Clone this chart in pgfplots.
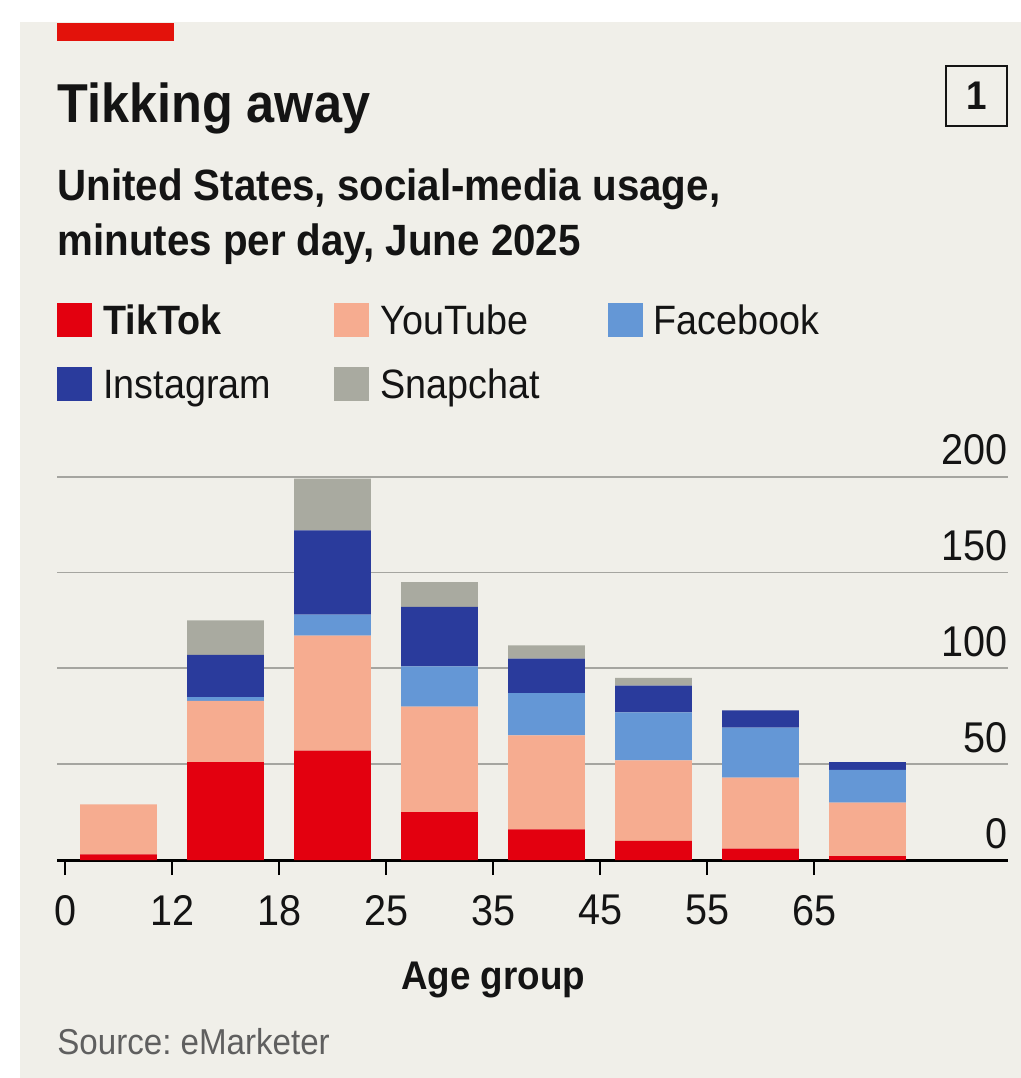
\documentclass[border=0pt]{standalone}
\usepackage{fontspec}
\setmainfont{Liberation Sans}[FakeStretch=0.92]
\usepackage{pgfplots}
\pgfplotsset{compat=1.18}
\definecolor{bg}{RGB}{240,239,233}
\definecolor{ecored}{RGB}{227,18,11}
\definecolor{tiktok}{RGB}{227,0,15}
\definecolor{youtube}{RGB}{246,172,144}
\definecolor{facebook}{RGB}{100,151,214}
\definecolor{instagram}{RGB}{42,59,156}
\definecolor{snapchat}{RGB}{169,170,160}
\definecolor{gridgray}{RGB}{165,165,160}
\definecolor{txt}{RGB}{20,20,20}
\definecolor{srcgray}{RGB}{95,95,95}

\pgfplotstableread{
x tiktok youtube facebook instagram snapchat
0 3 26 0 0 0
1 51 32 2 22 18
2 57 60 11 44 27
3 25 55 21 31 13
4 16 49 22 18 7
5 10 42 25 14 4
6 6 37 26 9 0
7 2 28 17 4 0
}\datatable

\newcommand{\fs}[1]{\fontsize{#1}{#1}\selectfont}
\frenchspacing

\begin{document}
\begin{tikzpicture}
\path[use as bounding box] (0,0) rectangle (510.5pt,-539pt);
\fill[white] (0,0) rectangle (510.5pt,-539pt);
\begin{scope}[x=0.5pt,y=-0.5pt]
\fill[bg] (20,22) rectangle (1021,1078);
\fill[ecored] (57,23) rectangle (174,41);
\node[anchor=base west, inner sep=0, text=txt, font=\fs{27.4pt}\bfseries] at (57,122) {Tikking away};
\draw[line width=1.2pt, txt] (946,66) rectangle (1007,126);
\node[text=txt, font=\fs{20pt}\bfseries, inner sep=0] at (976.5,96) {1};
\node[anchor=base west, inner sep=0, text=txt, font=\fs{21.9pt}\bfseries] at (57,200) {United States, social-media usage,};
\node[anchor=base west, inner sep=0, text=txt, font=\fs{21.9pt}\bfseries] at (57,255) {minutes per day, June 2025};
% legend
\fill[tiktok] (57,303) rectangle (92,337);
\node[anchor=base west, inner sep=0, text=txt, font=\fs{20.5pt}\bfseries] at (103,334) {TikTok};
\fill[youtube] (334,303) rectangle (369,337);
\node[anchor=base west, inner sep=0, text=txt, font=\fs{20.5pt}] at (380,334) {YouTube};
\fill[facebook] (608,303) rectangle (643,337);
\node[anchor=base west, inner sep=0, text=txt, font=\fs{20.5pt}] at (653,334) {Facebook};
\fill[instagram] (57,367) rectangle (92,401);
\node[anchor=base west, inner sep=0, text=txt, font=\fs{20.5pt}] at (103,398) {Instagram};
\fill[snapchat] (334,367) rectangle (369,401);
\node[anchor=base west, inner sep=0, text=txt, font=\fs{20.5pt}] at (380,398) {Snapchat};
% source
\node[anchor=base west, inner sep=0, text=srcgray, font=\fs{18pt}] at (57,1054) {Source: eMarketer};
\end{scope}
\begin{axis}[
  at={(28.5pt,-430pt)}, anchor=south west,
  x=53.5pt, y=0.9585pt,
  xmin=-0.575, xmax=8.313, ymin=0, ymax=200,
  axis x line*=bottom, axis y line*=right,
  y axis line style={draw=none},
  x axis line style={line width=1.5pt, black},
  xtick={-0.5,0.5,1.5,2.5,3.5,4.5,5.5,6.5},
  xticklabels={0,12,18,25,35,45,55,65},
  ytick={0,50,100,150,200},
  tick align=outside,
  major tick length=7.5pt,
  xtick style={black, line width=1pt},
  ytick style={draw=none},
  ymajorgrids,
  grid style={line width=0.9pt, gridgray},
  /pgf/number format/assume math mode=true,
  y tick label style={anchor=south east, inner sep=0pt, text=txt, font=\fs{21.5pt}, xshift=-7.5pt, yshift=5.5pt},
  x tick label style={inner sep=0pt, text=txt, font=\fs{21.5pt}, yshift=-10pt},
  xlabel={Age group},
  xlabel style={at={(axis description cs:0.4585,-0.339)}, anchor=base, inner sep=0pt, text=txt, font=\fs{20pt}\bfseries},
  ybar stacked, bar width=38.3pt,
]
\addplot[fill=tiktok, draw=none] table[x=x, y=tiktok] {\datatable};
\addplot[fill=youtube, draw=none] table[x=x, y=youtube] {\datatable};
\addplot[fill=facebook, draw=none] table[x=x, y=facebook] {\datatable};
\addplot[fill=instagram, draw=none] table[x=x, y=instagram] {\datatable};
\addplot[fill=snapchat, draw=none] table[x=x, y=snapchat] {\datatable};
\end{axis}
\end{tikzpicture}
\end{document}
